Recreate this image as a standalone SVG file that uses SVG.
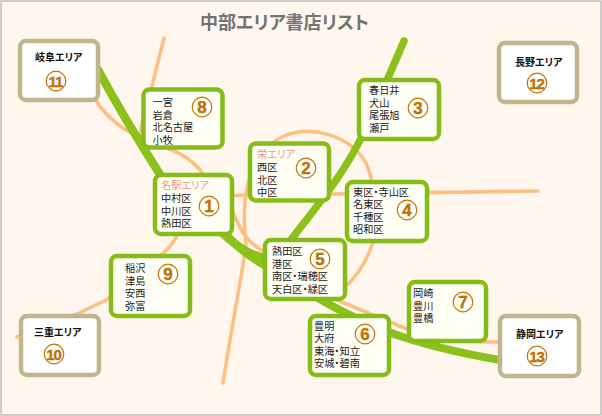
<svg xmlns="http://www.w3.org/2000/svg" width="602" height="416" viewBox="0 0 602 416">
<style>
text{font-family:"Liberation Sans","Noto Sans CJK JP",sans-serif;font-feature-settings:"palt"}
.o{fill:none;stroke:#fdc083;stroke-width:3.6;stroke-linecap:round}
.g{fill:none;stroke:#8cc11c}
.n rect{fill:#fffff6;stroke:#84bd18;stroke-width:4.5}
.a rect{fill:#fff;stroke:#c2b48d;stroke-width:4.5}
.n text{font-size:10.2px;fill:#222}
.a text{font-size:10px;font-weight:700;fill:#111}
.r{fill:#f29384}
.c{fill:none;stroke:#c27000;stroke-width:1.2}
.n text.d,.a text.d{font-weight:700;font-size:17px;fill:#c27000;stroke:#c27000;stroke-width:.4;text-anchor:middle}
.a text.d{font-size:15px;letter-spacing:-1px}
</style>
<rect x="1" y="1" width="600" height="414" fill="#fff7ed" stroke="#bdbdbd" stroke-width="1.5"/>
<text x="200" y="29" font-size="18" font-weight="700" fill="#737373">中部エリア書店リスト</text>
<g id="connectors">
<path class="o" d="M164 38L152 86Q142 120 139 140"/>
<path class="o" d="M95 99C112 128 145 142 172 150C187 156 197 165 205 176"/>
<path class="o" d="M178 234Q172 246 160 256L108 299L77 314L17 337"/>
<path class="o" d="M223 383C232 325 242 275 246 245C241 205 245 155 282 137C310 124 350 135 366 163C378 190 378 230 372 245C365 265 355 278 345 287"/>
<path class="o" d="M232 195.500L538 191"/>
<path class="o" d="M233 212C240 230 248 245 270 255"/>
<path class="o" d="M335 299Q375 316 407 329Q445 342 500 342"/>
<path class="g" stroke-width="7.500" stroke-linecap="round" d="M404 41L388 78"/>
<path class="g" stroke-width="7.500" d="M362 136C345 172 320 202 290 241"/>
<path class="g" stroke-width="8.500" d="M97 68Q125 120 161 176"/>
<path d="M217 234C235 250 250 262 265 270L265 254C255 251 245 248 231 234Z" fill="#8cc11c"/>
<path class="g" stroke-width="8" d="M318 298C345 314 380 330 400 336C430 346 465 354 500 360"/>
</g>
<g id="n11" class="a"><rect x="20" y="41" width="78" height="59" rx="6"/><text x="35" y="61">岐阜エリア</text><circle class="c" cx="56" cy="81" r="9.800"/><text class="d" x="55.500" y="86.500">11</text></g>
<g id="n8" class="n"><rect x="143.500" y="89.500" width="79" height="58" rx="6"/><text><tspan x="152.500" y="106">一宮</tspan><tspan x="152.500" y="118.500">岩倉</tspan><tspan x="152.500" y="131">北名古屋</tspan><tspan x="152.500" y="143.500">小牧</tspan></text><circle class="c" cx="202" cy="107" r="9.800"/><text class="d" x="202" y="113">8</text></g>
<g id="n1" class="n"><rect x="155" y="175" width="77" height="59" rx="6"/><text><tspan class="r" x="161" y="189">名駅エリア</tspan><tspan x="161" y="202">中村区</tspan><tspan x="161" y="214.500">中川区</tspan><tspan x="161" y="227">熱田区</tspan></text><circle class="c" cx="209" cy="206" r="9.800"/><text class="d" x="209" y="212">1</text></g>
<g id="n2" class="n"><rect x="250" y="143.500" width="79" height="57" rx="6"/><text><tspan class="r" x="257" y="158">栄エリア</tspan><tspan x="257" y="171">西区</tspan><tspan x="257" y="183.500">北区</tspan><tspan x="257" y="196">中区</tspan></text><circle class="c" cx="306" cy="168" r="9.800"/><text class="d" x="306" y="174">2</text></g>
<g id="n3" class="n"><rect x="359" y="80" width="80" height="59" rx="6"/><text><tspan x="369" y="94">春日井</tspan><tspan x="369" y="106.500">犬山</tspan><tspan x="369" y="119">尾張旭</tspan><tspan x="369" y="131.500">瀬戸</tspan></text><circle class="c" cx="418" cy="108" r="9.800"/><text class="d" x="418" y="114">3</text></g>
<g id="n4" class="n"><rect x="347" y="182" width="80" height="59" rx="6"/><text><tspan x="353" y="195.500">東区・寺山区</tspan><tspan x="353" y="208">名東区</tspan><tspan x="353" y="220.500">千種区</tspan><tspan x="353" y="233">昭和区</tspan></text><circle class="c" cx="407" cy="210" r="9.800"/><text class="d" x="407" y="216">4</text></g>
<g id="n5" class="n"><rect x="265" y="240" width="80" height="59" rx="6"/><text><tspan x="272" y="255">熱田区</tspan><tspan x="272" y="267.500">港区</tspan><tspan x="272" y="280">南区・瑞穂区</tspan><tspan x="272" y="292.500">天白区・緑区</tspan></text><circle class="c" cx="320" cy="259" r="9.800"/><text class="d" x="320" y="265">5</text></g>
<g id="n9" class="n"><rect x="111" y="256" width="79" height="60" rx="6"/><text><tspan x="125" y="272">稲沢</tspan><tspan x="125" y="284.500">津島</tspan><tspan x="125" y="297">安西</tspan><tspan x="125" y="309.500">弥富</tspan></text><circle class="c" cx="168" cy="274" r="9.800"/><text class="d" x="168" y="280">9</text></g>
<g id="n7" class="n"><rect x="409" y="282" width="77" height="59" rx="6"/><text><tspan x="413" y="297">岡崎</tspan><tspan x="413" y="309.500">豊川</tspan><tspan x="413" y="322">豊橋</tspan></text><circle class="c" cx="463" cy="302" r="9.800"/><text class="d" x="463" y="308">7</text></g>
<g id="n6" class="n"><rect x="310" y="316" width="79" height="59" rx="6"/><text><tspan x="314" y="329.500">豊明</tspan><tspan x="314" y="342">大府</tspan><tspan x="314" y="354.500">東海・知立</tspan><tspan x="314" y="367">安城・碧南</tspan></text><circle class="c" cx="365" cy="334" r="9.800"/><text class="d" x="365" y="340">6</text></g>
<g id="n10" class="a"><rect x="21" y="316" width="78" height="59" rx="6"/><text x="34" y="336">三重エリア</text><circle class="c" cx="54" cy="354" r="9.800"/><text class="d" x="53.500" y="359.500">10</text></g>
<g id="n12" class="a"><rect x="499" y="43" width="78" height="59" rx="6"/><text x="515" y="66">長野エリア</text><circle class="c" cx="537" cy="83" r="9.800"/><text class="d" x="536.500" y="88.500">12</text></g>
<g id="n13" class="a"><rect x="500" y="316" width="79" height="60" rx="6"/><text x="516" y="338">静岡エリア</text><circle class="c" cx="537" cy="356" r="9.800"/><text class="d" x="536.500" y="361.500">13</text></g>
</svg>
